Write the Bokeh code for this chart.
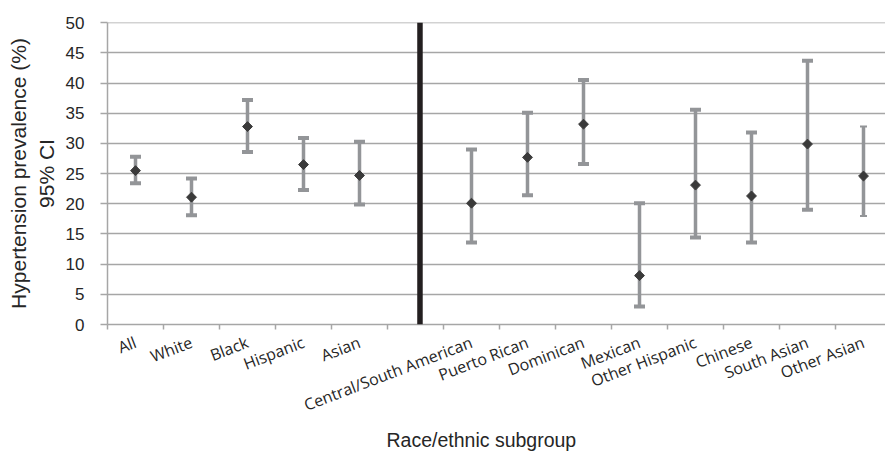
import numpy as np
from bokeh.plotting import figure
from bokeh.models import Range1d, FixedTicker, ColumnDataSource, Span, Title
from bokeh.embed import file_html
from bokeh.resources import INLINE

# ---- data ----
categories = ["All", "White", "Black", "Hispanic", "Asian", "",
              "Central/South American", "Puerto Rican", "Dominican", "Mexican",
              "Other Hispanic", "Chinese", "South Asian", "Other Asian"]
groups = ["All", "White", "Black", "Hispanic", "Asian",
          "Central/South American", "Puerto Rican", "Dominican", "Mexican",
          "Other Hispanic", "Chinese", "South Asian", "Other Asian"]
prevalence = [25.5, 21.1, 32.8, 26.5, 24.7, 20.1, 27.7, 33.2, 8.1, 23.1, 21.3, 29.9, 24.6]
ci_low = [23.4, 18.1, 28.6, 22.3, 19.9, 13.6, 21.4, 26.6, 3.0, 14.4, 13.6, 19.0, 18.0]
ci_high = [27.8, 24.2, 37.2, 30.9, 30.3, 29.0, 35.1, 40.5, 20.1, 35.6, 31.8, 43.7, 32.8]
y_ticks = [0, 5, 10, 15, 20, 25, 30, 35, 40, 45, 50]

# ---- positions via category index ----
x = [categories.index(g) + 0.5 for g in groups]
centers = [i + 0.5 for i, c in enumerate(categories) if c]
boundaries = list(range(0, len(categories) + 1))
sep_x = categories.index("") + 0.58

cap_w = [11] * 12 + [7]
cap_h = [4] * 12 + [2]

src = ColumnDataSource(dict(x=x, y=prevalence, lo=ci_low, hi=ci_high, cw=cap_w, ch=cap_h))

W, H = 885, 451
LEFT, TOP, BOTTOM = 107, 22, 127
p = figure(width=W, height=H, output_backend="svg", toolbar_location=None,
           x_range=Range1d(0, (W - LEFT) / 56.0), y_range=Range1d(0, 50.05),
           min_border_left=LEFT, min_border_right=0, min_border_top=TOP,
           min_border_bottom=BOTTOM)
p.outline_line_color = None
p.background_fill_color = "white"
p.border_fill_color = "white"

# grid
p.xgrid.grid_line_color = None
p.ygrid.ticker = FixedTicker(ticks=y_ticks)
p.ygrid.grid_line_color = "#a6a6a6"
p.ygrid.grid_line_width = 1.5

# y axis
yax = p.yaxis[0]
yax.ticker = FixedTicker(ticks=y_ticks)
yax.axis_line_color = "#a6a6a6"
yax.axis_line_width = 1.5
yax.major_tick_line_color = "#a6a6a6"
yax.major_tick_line_width = 1.5
yax.major_tick_out = 7
yax.major_tick_in = 0
yax.minor_tick_line_color = None
yax.major_label_text_font = "Liberation Sans"
yax.major_label_text_font_size = "17px"
yax.major_label_text_color = "#262626"
yax.major_label_standoff = 16
yax.axis_label = "Hypertension prevalence (%)\n95% CI"
yax.axis_label_text_font = "Liberation Sans"
yax.axis_label_text_font_size = "21px"
yax.axis_label_text_font_style = "normal"
yax.axis_label_text_color = "#262626"
yax.axis_label_standoff = 5

# x axis
xax = p.xaxis[0]
xax.ticker = FixedTicker(ticks=centers, minor_ticks=boundaries)
xax.major_label_overrides = {c: lab for c, lab in zip(centers, [c for c in categories if c])}
xax.axis_line_color = "#a6a6a6"
xax.axis_line_width = 1.5
xax.major_tick_line_color = None
xax.major_tick_out = 0
xax.major_tick_in = 0
xax.minor_tick_line_color = "#a6a6a6"
xax.minor_tick_line_width = 1.5
xax.minor_tick_out = 5
xax.minor_tick_in = 0
xax.major_label_orientation = 0.366
xax.major_label_text_font = "Open Sans"
xax.major_label_text_font_size = "16px"
xax.major_label_text_color = "#262626"
xax.major_label_standoff = 12

# x title as a left-aligned title so it can sit where the original does
p.add_layout(Title(text="Race/ethnic subgroup", align="left", offset=279,
                   text_font="Liberation Sans", text_font_size="19.5px",
                   text_font_style="normal", text_color="#262626", standoff=-4), "below")

# separator line
p.add_layout(Span(location=sep_x, dimension="height", line_color="#231f20", line_width=5.5))

# error bars
p.segment(x0="x", y0="lo", x1="x", y1="hi", source=src, line_color="#939598", line_width=3.5)
p.rect(x="x", y="hi", width="cw", height="ch", width_units="screen", height_units="screen",
       source=src, fill_color="#939598", line_color=None)
p.rect(x="x", y="lo", width="cw", height="ch", width_units="screen", height_units="screen",
       source=src, fill_color="#939598", line_color=None)

# means
p.scatter(x="x", y="y", source=src, marker="square", size=7, angle=np.pi / 4,
          fill_color="#3a3a3a", line_color="#3a3a3a")

open("out.html", "w").write(file_html(p, INLINE))
